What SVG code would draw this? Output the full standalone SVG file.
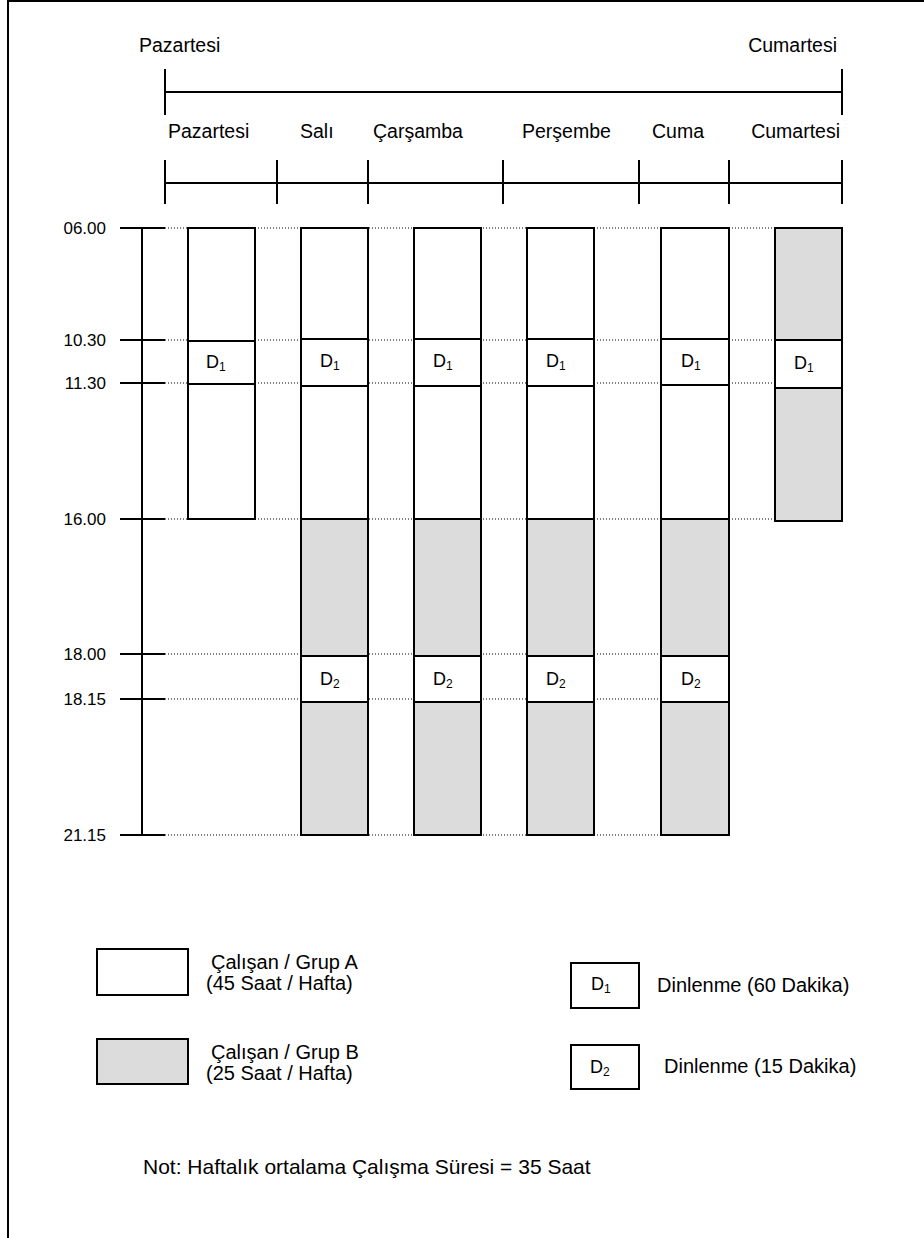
<svg xmlns="http://www.w3.org/2000/svg" width="924" height="1238" viewBox="0 0 924 1238">
<style>
text{font-family:"Liberation Sans",Arial,Helvetica,sans-serif;fill:#000}
.h{font-size:19.5px}
.t{font-size:17px;text-anchor:end}
.lg{font-size:20px}
.nt{font-size:21px}
.d{font-size:18px}
.s{font-size:12px}
.ax{stroke:#000;stroke-width:2;fill:none}
.dot{stroke:#000;stroke-width:1;stroke-dasharray:1 2;fill:none}
.w{fill:#fff;stroke:#000;stroke-width:2}
.g{fill:#dcdcdc;stroke:#000;stroke-width:2}
</style>
<rect x="0" y="0" width="924" height="1238" fill="#fff"/>
<g id="frame">
<line class="ax" x1="8" y1="1" x2="924" y2="1"/>
<line class="ax" x1="8" y1="0" x2="8" y2="1238"/>
</g>
<g id="week-scale">
<text class="h" x="139" y="52">Pazartesi</text>
<text class="h" x="837" y="52" text-anchor="end">Cumartesi</text>
<line class="ax" x1="165" y1="92" x2="842" y2="92"/>
<line class="ax" x1="165" y1="69" x2="165" y2="115"/>
<line class="ax" x1="842" y1="69" x2="842" y2="115"/>
</g>
<g id="day-scale">
<text class="h" x="168" y="138">Pazartesi</text>
<text class="h" x="300" y="138">Salı</text>
<text class="h" x="373" y="138">Çarşamba</text>
<text class="h" x="522" y="138">Perşembe</text>
<text class="h" x="652" y="138">Cuma</text>
<text class="h" x="840" y="138" text-anchor="end">Cumartesi</text>
<line class="ax" x1="165" y1="183" x2="842" y2="183"/>
<line class="ax" x1="165" y1="160" x2="165" y2="204"/>
<line class="ax" x1="277" y1="160" x2="277" y2="204"/>
<line class="ax" x1="368" y1="160" x2="368" y2="204"/>
<line class="ax" x1="503" y1="160" x2="503" y2="204"/>
<line class="ax" x1="639" y1="160" x2="639" y2="204"/>
<line class="ax" x1="729" y1="160" x2="729" y2="204"/>
<line class="ax" x1="842" y1="160" x2="842" y2="204"/>
</g>
<g id="connectors">
<line class="dot" x1="165" y1="228" x2="817" y2="228"/>
<line class="dot" x1="165" y1="340" x2="774" y2="340"/>
<line class="dot" x1="165" y1="383" x2="774" y2="383"/>
<line class="dot" x1="165" y1="519" x2="774" y2="519"/>
<line class="dot" x1="165" y1="654" x2="729" y2="654"/>
<line class="dot" x1="165" y1="699" x2="729" y2="699"/>
<line class="dot" x1="165" y1="835" x2="729" y2="835"/>
</g>
<g id="time-axis">
<line class="ax" x1="142" y1="227" x2="142" y2="835"/>
<line class="ax" x1="120" y1="228" x2="165" y2="228"/>
<line class="ax" x1="120" y1="340" x2="165" y2="340"/>
<line class="ax" x1="120" y1="383" x2="165" y2="383"/>
<line class="ax" x1="120" y1="519" x2="165" y2="519"/>
<line class="ax" x1="120" y1="654" x2="165" y2="654"/>
<line class="ax" x1="120" y1="699" x2="165" y2="699"/>
<line class="ax" x1="120" y1="835" x2="165" y2="835"/>
<text class="t" x="106" y="234">06.00</text>
<text class="t" x="106" y="346">10.30</text>
<text class="t" x="106" y="389">11.30</text>
<text class="t" x="106" y="525">16.00</text>
<text class="t" x="106" y="660">18.00</text>
<text class="t" x="106" y="705">18.15</text>
<text class="t" x="106" y="841">21.15</text>
</g>
<g id="col-pazartesi">
<rect class="w" x="188" y="228" width="67" height="291"/>
<rect class="w" x="188" y="341" width="67" height="43"/>
<text class="d" x="206" y="368">D<tspan class="s" dy="3">1</tspan></text>
</g>
<g id="col-sali">
<rect class="w" x="301" y="228" width="67" height="291"/>
<rect class="g" x="301" y="519" width="67" height="316"/>
<rect class="w" x="301" y="339" width="67" height="47"/>
<rect class="w" x="301" y="656" width="67" height="46"/>
<text class="d" x="320" y="367">D<tspan class="s" dy="3">1</tspan></text>
<text class="d" x="320" y="685">D<tspan class="s" dy="3">2</tspan></text>
</g>
<g id="col-carsamba">
<rect class="w" x="414" y="228" width="67" height="291"/>
<rect class="g" x="414" y="519" width="67" height="316"/>
<rect class="w" x="414" y="339" width="67" height="47"/>
<rect class="w" x="414" y="656" width="67" height="46"/>
<text class="d" x="433" y="367">D<tspan class="s" dy="3">1</tspan></text>
<text class="d" x="433" y="685">D<tspan class="s" dy="3">2</tspan></text>
</g>
<g id="col-persembe">
<rect class="w" x="527" y="228" width="67" height="291"/>
<rect class="g" x="527" y="519" width="67" height="316"/>
<rect class="w" x="527" y="339" width="67" height="47"/>
<rect class="w" x="527" y="656" width="67" height="46"/>
<text class="d" x="546" y="367">D<tspan class="s" dy="3">1</tspan></text>
<text class="d" x="546" y="685">D<tspan class="s" dy="3">2</tspan></text>
</g>
<g id="col-cuma">
<rect class="w" x="661" y="228" width="68" height="291"/>
<rect class="g" x="661" y="519" width="68" height="316"/>
<rect class="w" x="661" y="339" width="68" height="46"/>
<rect class="w" x="661" y="656" width="68" height="46"/>
<text class="d" x="681" y="367">D<tspan class="s" dy="3">1</tspan></text>
<text class="d" x="681" y="685">D<tspan class="s" dy="3">2</tspan></text>
</g>
<g id="col-cumartesi">
<rect class="g" x="775" y="228" width="67" height="293"/>
<rect class="w" x="775" y="340" width="67" height="48"/>
<text class="d" x="794" y="369">D<tspan class="s" dy="3">1</tspan></text>
</g>
<g id="legend-a">
<rect class="w" x="97" y="949" width="91" height="46"/>
<text class="lg" x="211" y="969">Çalışan / Grup A</text>
<text class="lg" x="206" y="990">(45 Saat / Hafta)</text>
</g>
<g id="legend-b">
<rect class="g" x="97" y="1039" width="91" height="45"/>
<text class="lg" x="211" y="1059">Çalışan / Grup B</text>
<text class="lg" x="206" y="1080">(25 Saat / Hafta)</text>
</g>
<g id="legend-d1">
<rect class="w" x="571" y="963" width="68" height="45"/>
<text class="d" x="591" y="990">D<tspan class="s" dy="3">1</tspan></text>
<text class="lg" x="657" y="992">Dinlenme (60 Dakika)</text>
</g>
<g id="legend-d2">
<rect class="w" x="571" y="1045" width="68" height="44"/>
<text class="d" x="590" y="1073">D<tspan class="s" dy="3">2</tspan></text>
<text class="lg" x="664" y="1073">Dinlenme (15 Dakika)</text>
</g>
<g id="note">
<text class="nt" x="143" y="1174">Not: Haftalık ortalama Çalışma Süresi = 35 Saat</text>
</g>
</svg>
